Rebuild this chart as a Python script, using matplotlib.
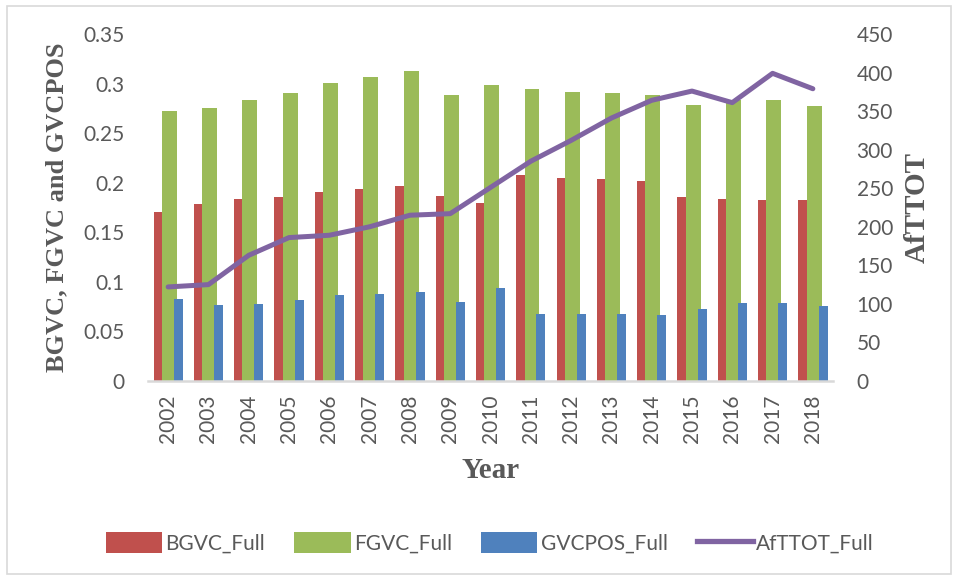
import matplotlib
matplotlib.use("Agg")
import matplotlib.pyplot as plt
from matplotlib.patches import Rectangle, Patch
from matplotlib.lines import Line2D
import numpy as np

years = ["2002", "2003", "2004", "2005", "2006", "2007", "2008", "2009", "2010",
         "2011", "2012", "2013", "2014", "2015", "2016", "2017", "2018"]
bgvc = [0.170, 0.179, 0.184, 0.186, 0.191, 0.194, 0.197, 0.187, 0.180,
        0.208, 0.205, 0.204, 0.202, 0.186, 0.184, 0.183, 0.183]
fgvc = [0.272, 0.275, 0.283, 0.290, 0.301, 0.307, 0.313, 0.288, 0.299,
        0.295, 0.291, 0.290, 0.288, 0.278, 0.283, 0.283, 0.277]
gvcpos = [0.083, 0.077, 0.078, 0.082, 0.087, 0.088, 0.090, 0.080, 0.094,
          0.068, 0.068, 0.0675, 0.067, 0.073, 0.079, 0.079, 0.0755]
afttot = [122, 125, 163, 186, 189, 200, 215, 217, 251,
          285, 312, 341, 364, 376, 361, 399, 379]

RED = "#C0504D"
GREEN = "#9BBB59"
BLUE = "#4F81BD"
PURPLE = "#8064A2"
TXT = "#595959"

W, H = 957, 578
fig = plt.figure(figsize=(W / 100, H / 100), dpi=100)
fig.patches.append(Rectangle((7 / W, 4 / H), 944 / W, 568 / H, transform=fig.transFigure,
                             fill=False, edgecolor="#D9D9D9", linewidth=1.2))

ax = fig.add_axes([148 / W, 1 - 381 / H, 685 / W, 347 / H])
x = np.arange(len(years))
ax.bar(x - 0.362, bgvc, width=0.37, align="edge", color=RED, zorder=2)
ax.bar(x - 0.156, fgvc, width=0.372, align="edge", color=GREEN, zorder=3)
ax.bar(x + 0.141, gvcpos, width=0.223, align="edge", color=BLUE, zorder=4)
ax.set_xlim(-0.5, len(years) - 0.5)
ax.set_ylim(0, 0.35)
ax.set_yticks([0, 0.05, 0.1, 0.15, 0.2, 0.25, 0.3, 0.35])
ax.set_yticklabels(["0", "0.05", "0.1", "0.15", "0.2", "0.25", "0.3", "0.35"])
ax.set_xticks(x)
ax.set_xticklabels(years, rotation=90)
for s in ["top", "right", "left"]:
    ax.spines[s].set_visible(False)
ax.spines["bottom"].set_color("#D9D9D9")
ax.spines["bottom"].set_linewidth(1.8)
ax.spines["bottom"].set_zorder(5)
ax.tick_params(axis="both", length=0, labelcolor=TXT, labelsize=15)
ax.tick_params(axis="y", pad=17)
ax.tick_params(axis="x", pad=10)
for lab in ax.get_xticklabels() + ax.get_yticklabels():
    lab.set_family("Lato")

ax2 = ax.twinx()
ax2.plot(x, afttot, color=PURPLE, linewidth=3.6, solid_capstyle="round", zorder=6)
ax2.set_ylim(0, 450)
ax2.set_yticks(range(0, 451, 50))
for s in ["top", "right", "left", "bottom"]:
    ax2.spines[s].set_visible(False)
ax2.tick_params(axis="y", length=0, labelcolor=TXT, labelsize=15, pad=17)
for lab in ax2.get_yticklabels():
    lab.set_family("Lato")

lab_font = dict(family="Liberation Serif", fontweight="bold", color=TXT)
ax.set_ylabel("BGVC, FGVC and GVCPOS", fontsize=19, **lab_font)
ax.yaxis.set_label_coords((57 - 148) / 685, 0.5)
ax.yaxis.label.set_va("center")
ax2.set_ylabel("AfTTOT", rotation=90, fontsize=21, **lab_font)
ax2.yaxis.set_label_coords((917 - 148) / 685, 0.5)
ax2.yaxis.label.set_va("center")
ax.set_xlabel("Year", fontsize=21, **lab_font)
ax.xaxis.set_label_coords(0.5, (381 - 470) / 347)
ax.xaxis.label.set_va("center")

handles = [Patch(facecolor=RED, label="BGVC_Full"),
           Patch(facecolor=GREEN, label="FGVC_Full"),
           Patch(facecolor=BLUE, label="GVCPOS_Full"),
           Line2D([0], [0], color=PURPLE, linewidth=3.8, label="AfTTOT_Full")]
leg = fig.legend(handles=handles, loc="center", bbox_to_anchor=(490 / W, 1 - 543 / H),
                 ncol=4, frameon=False, handlelength=2.7, handleheight=1.15,
                 handletextpad=0.15, columnspacing=1.4,
                 prop=dict(family="Lato", size=15))
for t in leg.get_texts():
    t.set_color(TXT)

fig.savefig("out.png", dpi=100)
